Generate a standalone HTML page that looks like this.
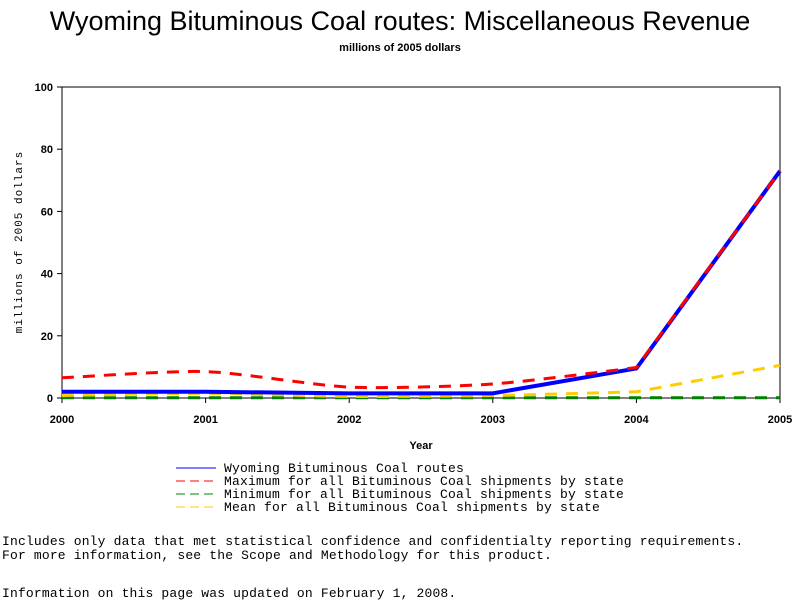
<!DOCTYPE html>
<html><head><meta charset="utf-8"><style>
body{margin:0;background:#fff;width:800px;height:600px;overflow:hidden;position:relative;font-family:"Liberation Sans",sans-serif}
.t{position:absolute;white-space:nowrap}
.mono{font-family:"Liberation Mono",monospace;font-size:13px;letter-spacing:0.17px}
</style></head><body>
<div class="t" style="left:0;width:800px;text-align:center;top:6px;font-size:27px">Wyoming Bituminous Coal routes: Miscellaneous Revenue</div>
<div class="t" style="left:0;width:800px;text-align:center;top:42px;font-size:11px;font-weight:bold">millions of 2005 dollars</div>
<svg id="chart" width="800" height="600" style="position:absolute;left:0;top:0" font-family="Liberation Sans, sans-serif"></svg>
<div class="t mono" style="left:2px;top:535px;line-height:14px">Includes only data that met statistical confidence and confidentialty reporting requirements.<br>For more information, see the Scope and Methodology for this product.</div>
<div class="t mono" style="left:2px;top:586px">Information on this page was updated on February 1, 2008.</div>
<script>
const years=[2000,2001,2002,2003,2004,2005];
const yTicks=[0,20,40,60,80,100];
const wyoming=[2,2,1.5,1.5,9.5,73];
const maximum=[6.5,8.5,3.5,4.5,9.8,73];
const minimum=[0.1,0.1,0.1,0.1,0.1,0.1];
const mean=[0.8,1.5,0.5,0.8,2,10.5];
const L=62,R=780,T=87,B=398;
const xs=v=>L+(v-2000)*(R-L)/5;
const ys=v=>B-v*(B-T)/100;
const svg=document.getElementById('chart');
const NS='http://www.w3.org/2000/svg';
function mk(tag,attrs){const e=document.createElementNS(NS,tag);for(const k in attrs)e.setAttribute(k,attrs[k]);svg.appendChild(e);return e;}
let e=mk('rect',{x:L,y:T,width:R-L,height:B-T,fill:'none',stroke:'#000','stroke-width':1});


yTicks.forEach(v=>{
 let l=mk('line',{x1:L-5,x2:L,y1:ys(v),y2:ys(v),stroke:'#000'});
 
 
 let t=mk('text',{x:L-9,y:ys(v)+4,'text-anchor':'end','font-size':11,'font-weight':'bold'});t.textContent=v;
 
 
});
years.forEach(v=>{
 let l=mk('line',{x1:xs(v),x2:xs(v),y1:B,y2:B+5,stroke:'#000'});
 
 
 let t=mk('text',{x:xs(v),y:B+25,'text-anchor':'middle','font-size':11,'font-weight':'bold'});t.textContent=v;
 
 
});
let xt=mk('text',{x:421,y:449,'text-anchor':'middle','font-size':11,'font-weight':'bold'});xt.textContent='Year';


let yt=mk('text',{x:22,y:242,'text-anchor':'middle','font-size':11,'font-family':'Liberation Mono, monospace',transform:'rotate(-90 22 242)','letter-spacing':'1'});yt.textContent='millions of 2005 dollars';


function curve(vals){
 const p=vals.map((v,i)=>[xs(years[i]),ys(v)]);
 let d='M'+p[0][0]+','+p[0][1];
 for(let i=0;i<p.length-1;i++){
  const p0=p[Math.max(0,i-1)],p1=p[i],p2=p[i+1],p3=p[Math.min(p.length-1,i+2)];
  if(i===p.length-2){d+=' L'+p2[0]+','+p2[1];continue;}
  const k=0.12;
  const k2=(i===p.length-3)?0:k;
  d+=' C'+(p1[0]+(p2[0]-p0[0])*k)+','+(p1[1]+(p2[1]-p0[1])*k)+' '+(p2[0]-(p3[0]-p1[0])*k2)+','+(p2[1]-(p3[1]-p1[1])*k2)+' '+p2[0]+','+p2[1];
 }
 return d;
}
function lin(vals){return vals.map((v,i)=>(i?'L':'M')+xs(years[i])+','+ys(v)).join(' ');}
let s;
s=mk('path',{d:curve(minimum),fill:'none',stroke:'#008000','stroke-width':3,'stroke-dasharray':'12,9'});


s=mk('path',{d:curve(mean),fill:'none',stroke:'#ffcc00','stroke-width':3,'stroke-dasharray':'12,9'});


s=mk('path',{d:lin(wyoming),fill:'none',stroke:'#0000ff','stroke-width':4});


s=mk('path',{d:curve(maximum),fill:'none',stroke:'#ff0000','stroke-width':3,'stroke-dasharray':'12,9'});


const legNames=['Wyoming Bituminous Coal routes','Maximum for all Bituminous Coal shipments by state','Minimum for all Bituminous Coal shipments by state','Mean for all Bituminous Coal shipments by state'];
const legColors=['#0000ff','#ff0000','#008000','#ffcc00'];
legNames.forEach((n,i)=>{
 const y=468+i*13;
 let l=mk('line',{x1:176,x2:216,y1:y,y2:y,stroke:legColors[i],'stroke-width':1,'stroke-dasharray':i?'9,5':'none'});
 
 
 let t=mk('text',{x:224,y:y+4,'font-size':13,'font-family':'Liberation Mono, monospace','letter-spacing':'0.2'});t.textContent=n;
 
 
});
</script>
</body></html>
